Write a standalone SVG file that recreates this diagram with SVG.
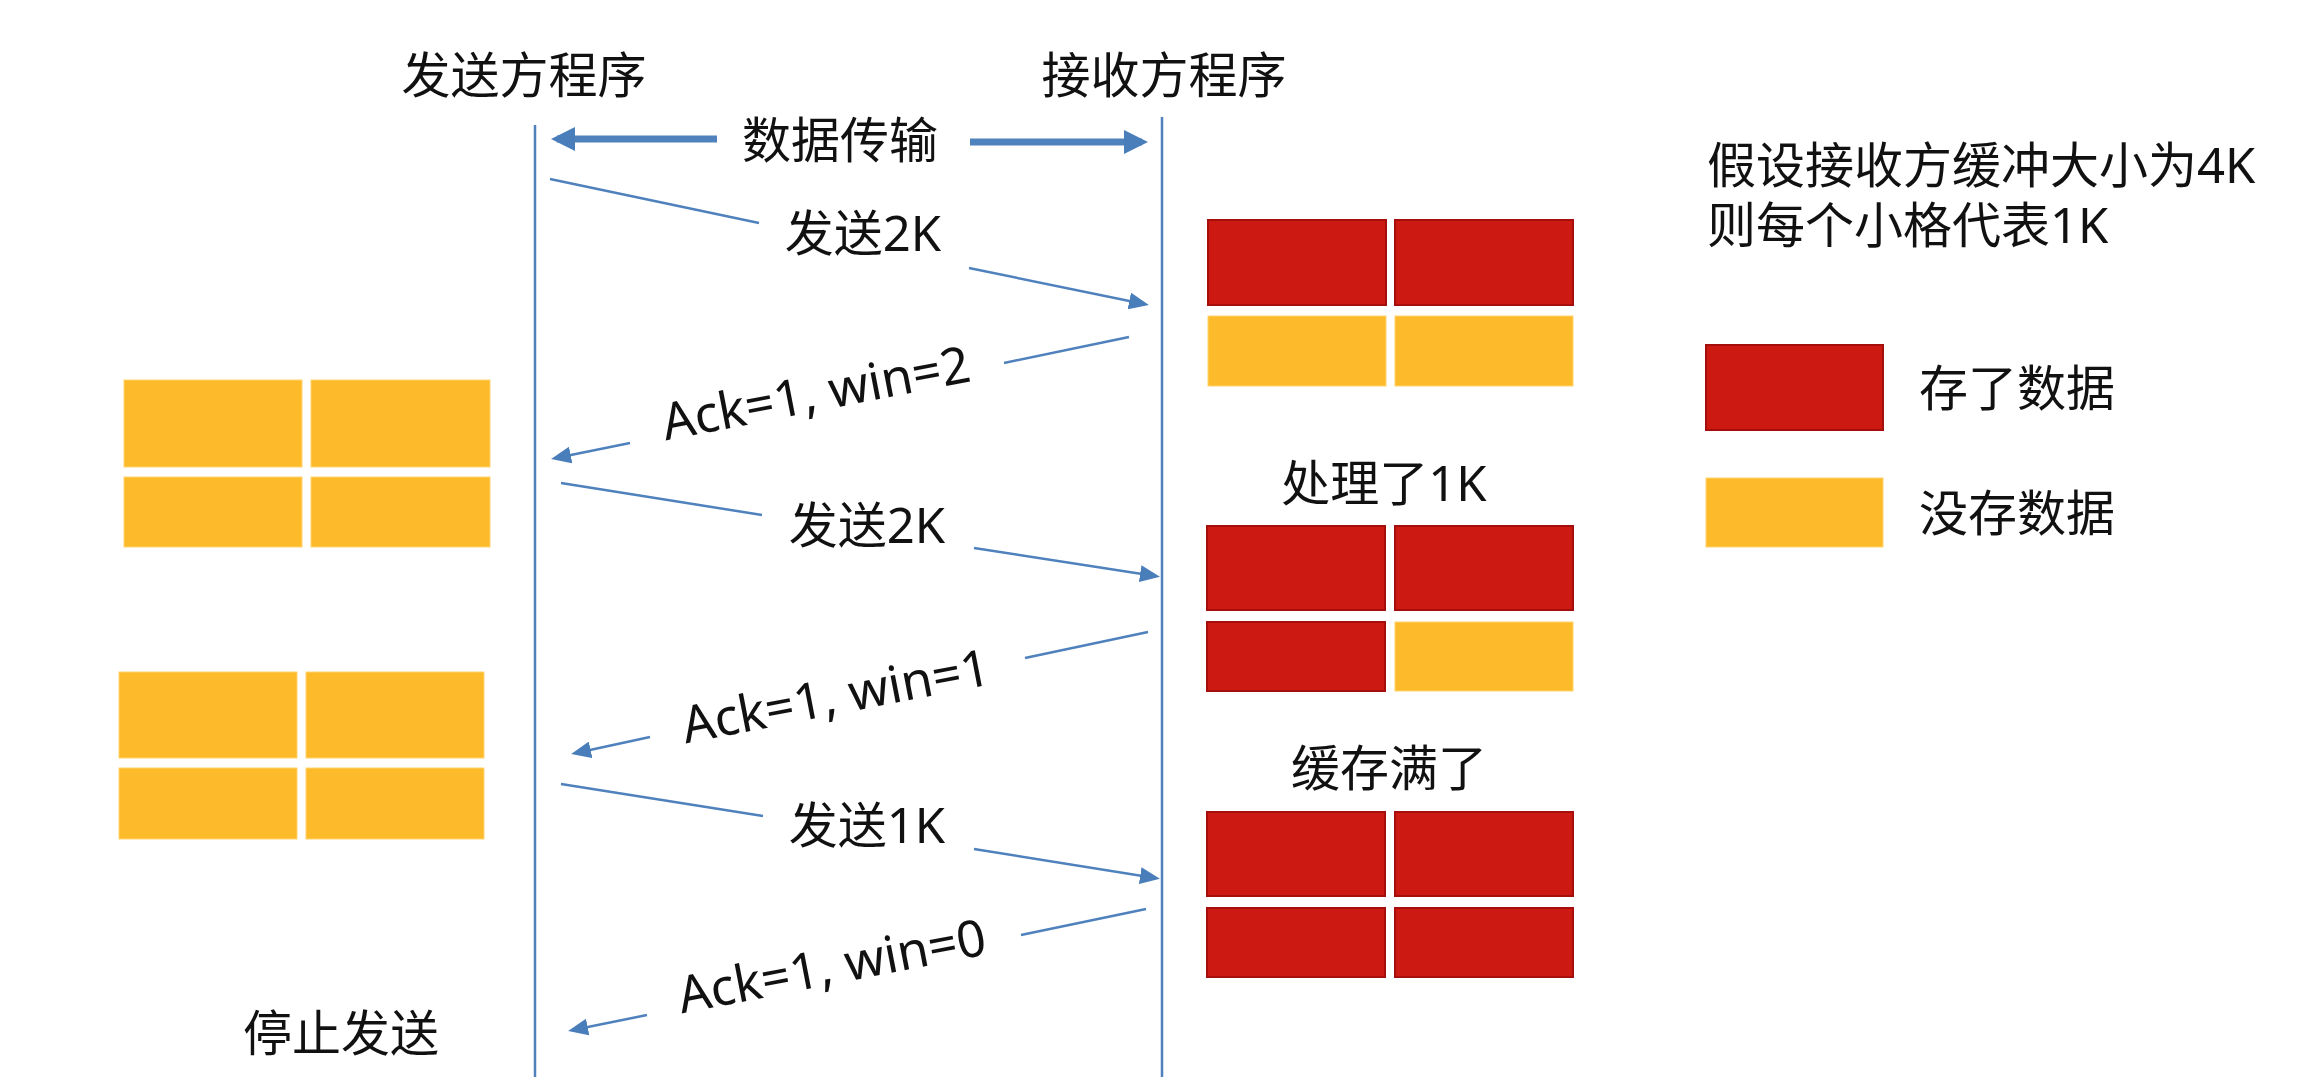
<svg xmlns="http://www.w3.org/2000/svg" width="2315" height="1077" viewBox="0 0 2315 1077">
  <style>
    .t { font-family: "Noto Sans", "Noto Sans CJK SC", sans-serif; font-size: 49px; fill: #111; }
    .ack { font-size: 51px; }
    .mid { text-anchor: middle; }
    .life { stroke: #4F81BD; stroke-width: 2.5; fill: none; }
    .msg { stroke: #4F81BD; stroke-width: 2.5; fill: none; }
    .thick { stroke: #4F81BD; stroke-width: 7; fill: none; }
    .red { fill: #CC1A12; stroke: #A50E0A; stroke-width: 2; }
    .yel { fill: #FDBB2C; stroke: #FFD36B; stroke-width: 1; }
  </style>
  <defs>
    <marker id="ah" viewBox="0 0 20 17" refX="15" refY="8.5" markerWidth="20" markerHeight="17" markerUnits="userSpaceOnUse" orient="auto">
      <path d="M0,0 L20,8.5 L0,17 z" fill="#4A7EBB"/>
    </marker>
    <marker id="ahb" viewBox="0 0 24 24" refX="18" refY="12" markerWidth="24" markerHeight="24" markerUnits="userSpaceOnUse" orient="auto">
      <path d="M0,0 L24,12 L0,24 z" fill="#4A7EBB"/>
    </marker>
  </defs>
  <rect width="2315" height="1077" fill="#FFFFFF"/>

  <g id="sender">
    <text class="t mid" x="524" y="93">发送方程序</text>
  </g>
  <g id="receiver">
    <text class="t mid" x="1164" y="93">接收方程序</text>
  </g>
  <g id="legend-note">
    <text class="t" x="1707" y="183">假设接收方缓冲大小为4K</text>
    <text class="t" x="1707" y="243">则每个小格代表1K</text>
  </g>
  <g id="legend-stored">
    <rect class="red" x="1706" y="345" width="177" height="85"/>
    <text class="t" x="1919" y="406">存了数据</text>
  </g>
  <g id="legend-empty">
    <rect class="yel" x="1706" y="478" width="177" height="69"/>
    <text class="t" x="1919" y="531">没存数据</text>
  </g>

  <g id="recv-buffer-1">
    <rect class="red" x="1208" y="220" width="178" height="85"/>
    <rect class="red" x="1395" y="220" width="178" height="85"/>
    <rect class="yel" x="1208" y="316" width="178" height="70"/>
    <rect class="yel" x="1395" y="316" width="178" height="70"/>
  </g>
  <g id="recv-buffer-2">
    <text class="t mid" x="1384" y="501">处理了1K</text>
    <rect class="red" x="1207" y="526" width="178" height="84"/>
    <rect class="red" x="1395" y="526" width="178" height="84"/>
    <rect class="red" x="1207" y="622" width="178" height="69"/>
    <rect class="yel" x="1395" y="622" width="178" height="69"/>
  </g>
  <g id="recv-buffer-3">
    <text class="t mid" x="1389" y="786">缓存满了</text>
    <rect class="red" x="1207" y="812" width="178" height="84"/>
    <rect class="red" x="1395" y="812" width="178" height="84"/>
    <rect class="red" x="1207" y="908" width="178" height="69"/>
    <rect class="red" x="1395" y="908" width="178" height="69"/>
  </g>

  <g id="send-window-1">
    <rect class="yel" x="124" y="380" width="178" height="87"/>
    <rect class="yel" x="311" y="380" width="179" height="87"/>
    <rect class="yel" x="124" y="477" width="178" height="70"/>
    <rect class="yel" x="311" y="477" width="179" height="70"/>
  </g>
  <g id="send-window-2">
    <rect class="yel" x="119" y="672" width="178" height="86"/>
    <rect class="yel" x="306" y="672" width="178" height="86"/>
    <rect class="yel" x="119" y="768" width="178" height="71"/>
    <rect class="yel" x="306" y="768" width="178" height="71"/>
  </g>
  <g id="stop">
    <text class="t mid" x="341" y="1051">停止发送</text>
  </g>

  <g id="connectors">
    <line class="life" x1="535" y1="125" x2="535" y2="1077"/>
    <line class="life" x1="1162" y1="117" x2="1162" y2="1077"/>

    <line class="thick" x1="717" y1="139" x2="557" y2="139" marker-end="url(#ahb)"/>
    <line class="thick" x1="970" y1="142" x2="1142" y2="142" marker-end="url(#ahb)"/>
    <text class="t mid" x="840" y="158">数据传输</text>

    <line class="msg" x1="550" y1="179" x2="759" y2="223"/>
    <line class="msg" x1="969" y1="268" x2="1144" y2="304" marker-end="url(#ah)"/>
    <text class="t mid" x="863" y="251">发送2K</text>

    <line class="msg" x1="1129" y1="337" x2="1004" y2="363"/>
    <line class="msg" x1="630" y1="443" x2="556" y2="458" marker-end="url(#ah)"/>
    <text class="t ack mid" x="816" y="411" transform="rotate(-11 816 394)">Ack=1, win=2</text>

    <line class="msg" x1="561" y1="483" x2="762" y2="515"/>
    <line class="msg" x1="974" y1="548" x2="1155" y2="576" marker-end="url(#ah)"/>
    <text class="t mid" x="867" y="543">发送2K</text>

    <line class="msg" x1="1148" y1="632" x2="1025" y2="658"/>
    <line class="msg" x1="650" y1="737" x2="576" y2="753" marker-end="url(#ah)"/>
    <text class="t ack mid" x="836" y="714" transform="rotate(-11 836 697)">Ack=1, win=1</text>

    <line class="msg" x1="561" y1="784" x2="763" y2="816"/>
    <line class="msg" x1="974" y1="849" x2="1155" y2="878" marker-end="url(#ah)"/>
    <text class="t mid" x="867" y="843">发送1K</text>

    <line class="msg" x1="1146" y1="909" x2="1021" y2="935"/>
    <line class="msg" x1="647" y1="1015" x2="573" y2="1030" marker-end="url(#ah)"/>
    <text class="t ack mid" x="832" y="984" transform="rotate(-11 832 967)">Ack=1, win=0</text>
  </g>
</svg>
